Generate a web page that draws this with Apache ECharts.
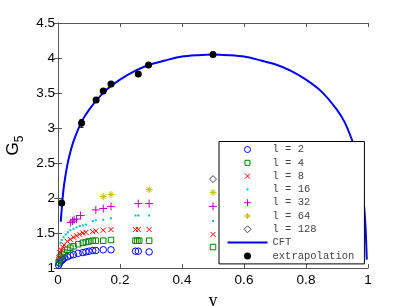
<!DOCTYPE html>
<html>
<head>
<meta charset="utf-8">
<script src="https://cdn.jsdelivr.net/npm/echarts@6/dist/echarts.min.js"></script>
<style>
  html, body { margin: 0; padding: 0; background: #fff; }
  #chart { width: 407px; height: 306px; }
</style>
</head>
<body>
<div id="chart"></div>
<script>
// x ticks and y ticks
var xTicks = [0, 0.2, 0.4, 0.6, 0.8, 1];
var yTicks = [1, 1.5, 2, 2.5, 3, 3.5, 4, 4.5];

// l = 2 .. 128, points [y, G5]
var l2 = [[0.002, 1.04], [0.005, 1.07], [0.01, 1.1], [0.015, 1.12], [0.02, 1.14], [0.03, 1.16], [0.04, 1.18],
    [0.05, 1.19], [0.065, 1.21], [0.08, 1.22], [0.09, 1.23], [0.1, 1.24], [0.112, 1.25], [0.122, 1.25],
    [0.146, 1.26], [0.171, 1.26], [0.25, 1.24], [0.259, 1.24], [0.294, 1.23]];
var l4 = [[0.002, 1.08], [0.005, 1.12], [0.01, 1.16], [0.015, 1.19], [0.02, 1.22], [0.03, 1.26], [0.04, 1.29],
    [0.05, 1.31], [0.065, 1.34], [0.08, 1.36], [0.09, 1.37], [0.1, 1.38], [0.112, 1.39], [0.122, 1.39],
    [0.146, 1.39], [0.171, 1.40], [0.25, 1.39], [0.256, 1.39], [0.262, 1.39], [0.294, 1.39], [0.5, 1.30]];
var l8 = [[0.003, 1.15], [0.006, 1.22], [0.01, 1.26], [0.015, 1.3], [0.02, 1.33], [0.03, 1.38], [0.04, 1.41],
    [0.05, 1.44], [0.06, 1.46], [0.07, 1.48], [0.08, 1.5], [0.09, 1.51], [0.112, 1.52], [0.122, 1.53],
    [0.146, 1.54], [0.171, 1.55], [0.25, 1.55], [0.259, 1.55], [0.294, 1.55], [0.5, 1.48]];
var l16 = [[0.008, 1.36], [0.012, 1.4], [0.018, 1.44], [0.025, 1.48], [0.032, 1.51], [0.04, 1.54], [0.05, 1.56],
    [0.06, 1.58], [0.07, 1.6], [0.08, 1.61], [0.09, 1.62], [0.112, 1.67], [0.122, 1.68], [0.146, 1.69],
    [0.171, 1.71], [0.25, 1.75], [0.259, 1.75], [0.294, 1.75], [0.5, 1.67]];
var l32 = [[0.041, 1.65], [0.047, 1.67], [0.052, 1.69], [0.06, 1.7], [0.073, 1.75], [0.122, 1.83],
    [0.146, 1.85], [0.171, 1.88], [0.259, 1.92], [0.294, 1.92], [0.5, 1.88]];
var l64 = [[0.146, 2.02], [0.171, 2.05], [0.294, 2.12], [0.5, 2.08]];
var l128 = [[0.5, 2.27]];

// CFT curve
var cft = [[0.009, 1.66], [0.01, 1.73], [0.015, 2.0], [0.02, 2.2], [0.03, 2.47], [0.04, 2.66], [0.05, 2.81],
    [0.075, 3.08], [0.1, 3.26], [0.15, 3.52], [0.2, 3.69], [0.25, 3.82], [0.3, 3.91], [0.35, 3.97],
    [0.4, 4.02], [0.45, 4.04], [0.5, 4.05], [0.55, 4.04], [0.6, 4.02], [0.65, 3.97], [0.7, 3.91],
    [0.75, 3.82], [0.8, 3.69], [0.85, 3.52], [0.9, 3.26], [0.925, 3.08], [0.95, 2.81], [0.96, 2.66],
    [0.97, 2.47], [0.98, 2.2], [0.985, 2.0], [0.99, 1.73], [0.993, 1.5], [0.996, 1.12]];

// extrapolation points and the one error bar [y, low, high]
var extrap = [[0.012, 1.93], [0.076, 3.07], [0.123, 3.40], [0.146, 3.53], [0.171, 3.63],
    [0.259, 3.77], [0.292, 3.90], [0.5, 4.05]];
var errBars = [[0.076, 3.01, 3.12]];

var plusPath = 'path://M5,0L5,10M0,5L10,5';
var crossPath = 'path://M0,0L10,10M10,0L0,10';
var starPath = 'path://M5,0L5,10M0,5L10,5M1.5,1.5L8.5,8.5M8.5,1.5L1.5,8.5';
var dotPath = 'path://M0,0M9,9M3.5,3.5L5.5,3.5L5.5,5.5L3.5,5.5Z';

// legend icons, drawn in a 40 x 7 box
var box = 'path://M0,0M40,7';
var legendIcons = {
    circle: box + 'M23,3.5A3,3 0 1 1 17,3.5A3,3 0 1 1 23,3.5Z',
    square: box + 'M17.5,1L22.5,1L22.5,6L17.5,6Z',
    cross: box + 'M17.5,1L22.5,6M22.5,1L17.5,6',
    dot: box + 'M19,2.5L21,2.5L21,4.5L19,4.5Z',
    plus: box + 'M20,0L20,7M16.5,3.5L23.5,3.5',
    star: box + 'M20,0.5L20,6.5M17,3.5L23,3.5M18,1.5L22,5.5M22,1.5L18,5.5',
    diamond: box + 'M20,0L23.5,3.5L20,7L16.5,3.5Z',
    line: 'path://M0,2.5L40,2.5L40,4.5L0,4.5Z',
    disc: box + 'M23.5,3.5A3.5,3.5 0 1 1 16.5,3.5A3.5,3.5 0 1 1 23.5,3.5Z'
};

function markerSeries(name, data, symbol, size, color, filled) {
    return {
        name: name,
        type: 'scatter',
        data: data,
        symbol: symbol,
        symbolSize: size,
        symbolKeepAspect: true,
        itemStyle: filled
            ? { color: color, borderWidth: 0, opacity: 1 }
            : { color: 'transparent', borderColor: color, borderWidth: 1, opacity: 1 },
        emphasis: { disabled: true },
        z: 3
    };
}

function legendItem(name, icon, color, filled) {
    return {
        name: name,
        icon: legendIcons[icon],
        itemStyle: filled
            ? { color: color, borderWidth: 0, opacity: 1 }
            : { color: 'transparent', borderColor: color, borderWidth: 1, opacity: 1 }
    };
}

var chart = echarts.init(document.getElementById('chart'));

var axisLineStyle = { color: '#555', width: 1 };
var tickFont = { fontFamily: 'Liberation Sans', fontSize: 13.5, color: '#000' };

var option = {
    animation: false,
    backgroundColor: '#fff',
    grid: { left: 58, right: 39, top: 23, bottom: 38, outerBoundsMode: 'none', containLabel: false },
    xAxis: [{
        type: 'value', min: 0, max: 1, interval: 0.2,
        name: 'y', nameLocation: 'middle', nameGap: 22,
        nameTextStyle: { fontFamily: 'Liberation Serif', fontSize: 18, color: '#000' },
        axisLine: { lineStyle: axisLineStyle },
        axisTick: { inside: true, length: 4, lineStyle: axisLineStyle },
        axisLabel: Object.assign({ margin: 5 }, tickFont),
        splitLine: { show: false }
    }, {
        type: 'value', min: 0, max: 1, interval: 0.2, position: 'top',
        axisLine: { lineStyle: axisLineStyle },
        axisTick: { inside: true, length: 4, lineStyle: axisLineStyle },
        axisLabel: { show: false },
        splitLine: { show: false }
    }],
    yAxis: [{
        type: 'value', min: 1, max: 4.5, interval: 0.5,
        name: '{g|G}{s|5}', nameLocation: 'middle', nameGap: 32, nameRotate: 90,
        nameTextStyle: {
            color: '#000',
            rich: {
                g: { fontFamily: 'Liberation Sans', fontSize: 17 },
                s: { fontFamily: 'Liberation Sans', fontSize: 12, padding: [13, 0, 0, 0] }
            }
        },
        axisLine: { lineStyle: axisLineStyle },
        axisTick: { inside: true, length: 4, lineStyle: axisLineStyle },
        axisLabel: Object.assign({ margin: 3 }, tickFont),
        splitLine: { show: false }
    }, {
        type: 'value', min: 1, max: 4.5, interval: 0.5, position: 'right',
        axisLine: { lineStyle: axisLineStyle },
        axisTick: { inside: true, length: 4, lineStyle: axisLineStyle },
        axisLabel: { show: false },
        splitLine: { show: false }
    }],
    legend: {
        orient: 'vertical',
        left: 219, top: 141.5,
        itemWidth: 40, itemHeight: 7, itemGap: 1.3,
        padding: [2, 10, 2, 8],
        backgroundColor: '#fff',
        borderColor: '#000', borderWidth: 1, borderRadius: 0,
        selectedMode: false,
        textStyle: { fontFamily: 'Liberation Mono', fontSize: 10.5, lineHeight: 12, color: '#444' },
        data: [
            legendItem('l = 2', 'circle', '#0000ff', false),
            legendItem('l = 4', 'square', '#008000', false),
            legendItem('l = 8', 'cross', '#ff0000', false),
            legendItem('l = 16', 'dot', '#00bfbf', true),
            legendItem('l = 32', 'plus', '#bf00bf', false),
            legendItem('l = 64', 'star', '#bfbf00', false),
            legendItem('l = 128', 'diamond', '#444', false),
            legendItem('CFT', 'line', '#0000ff', true),
            legendItem('extrapolation', 'disc', '#000', true)
        ]
    },
    series: [
        {
            name: 'CFT', type: 'line', data: cft, smooth: 0.3, symbol: 'none',
            lineStyle: { color: '#0000ff', width: 2 },
            itemStyle: { color: '#0000ff' },
            emphasis: { disabled: true }, z: 2
        },
        markerSeries('l = 2', l2, 'circle', 6.5, '#0000ff', false),
        markerSeries('l = 4', l4, 'rect', 5.5, '#008000', false),
        markerSeries('l = 8', l8, crossPath, 5, '#ff0000', false),
        markerSeries('l = 16', l16, dotPath, 9, '#00bfbf', true),
        markerSeries('l = 32', l32, plusPath, 8, '#bf00bf', false),
        markerSeries('l = 64', l64, starPath, 7, '#bfbf00', false),
        markerSeries('l = 128', l128, 'diamond', 7, '#444', false),
        {
            name: 'errbar', type: 'custom', data: errBars, z: 4,
            renderItem: function (params, api) {
                var lo = api.coord([api.value(0), api.value(1)]);
                var hi = api.coord([api.value(0), api.value(2)]);
                return {
                    type: 'group',
                    children: [
                        { type: 'line', shape: { x1: lo[0], y1: lo[1], x2: hi[0], y2: hi[1] }, style: { stroke: '#000', lineWidth: 1 } },
                        { type: 'line', shape: { x1: lo[0] - 2, y1: lo[1], x2: lo[0] + 2, y2: lo[1] }, style: { stroke: '#000', lineWidth: 1 } },
                        { type: 'line', shape: { x1: hi[0] - 2, y1: hi[1], x2: hi[0] + 2, y2: hi[1] }, style: { stroke: '#000', lineWidth: 1 } }
                    ]
                };
            }
        },
        {
            name: 'extrapolation', type: 'scatter', data: extrap, symbol: 'circle', symbolSize: 7,
            itemStyle: { color: '#000', opacity: 1 }, emphasis: { disabled: true }, z: 5
        }
    ]
};

chart.setOption(option);
</script>
</body>
</html>
